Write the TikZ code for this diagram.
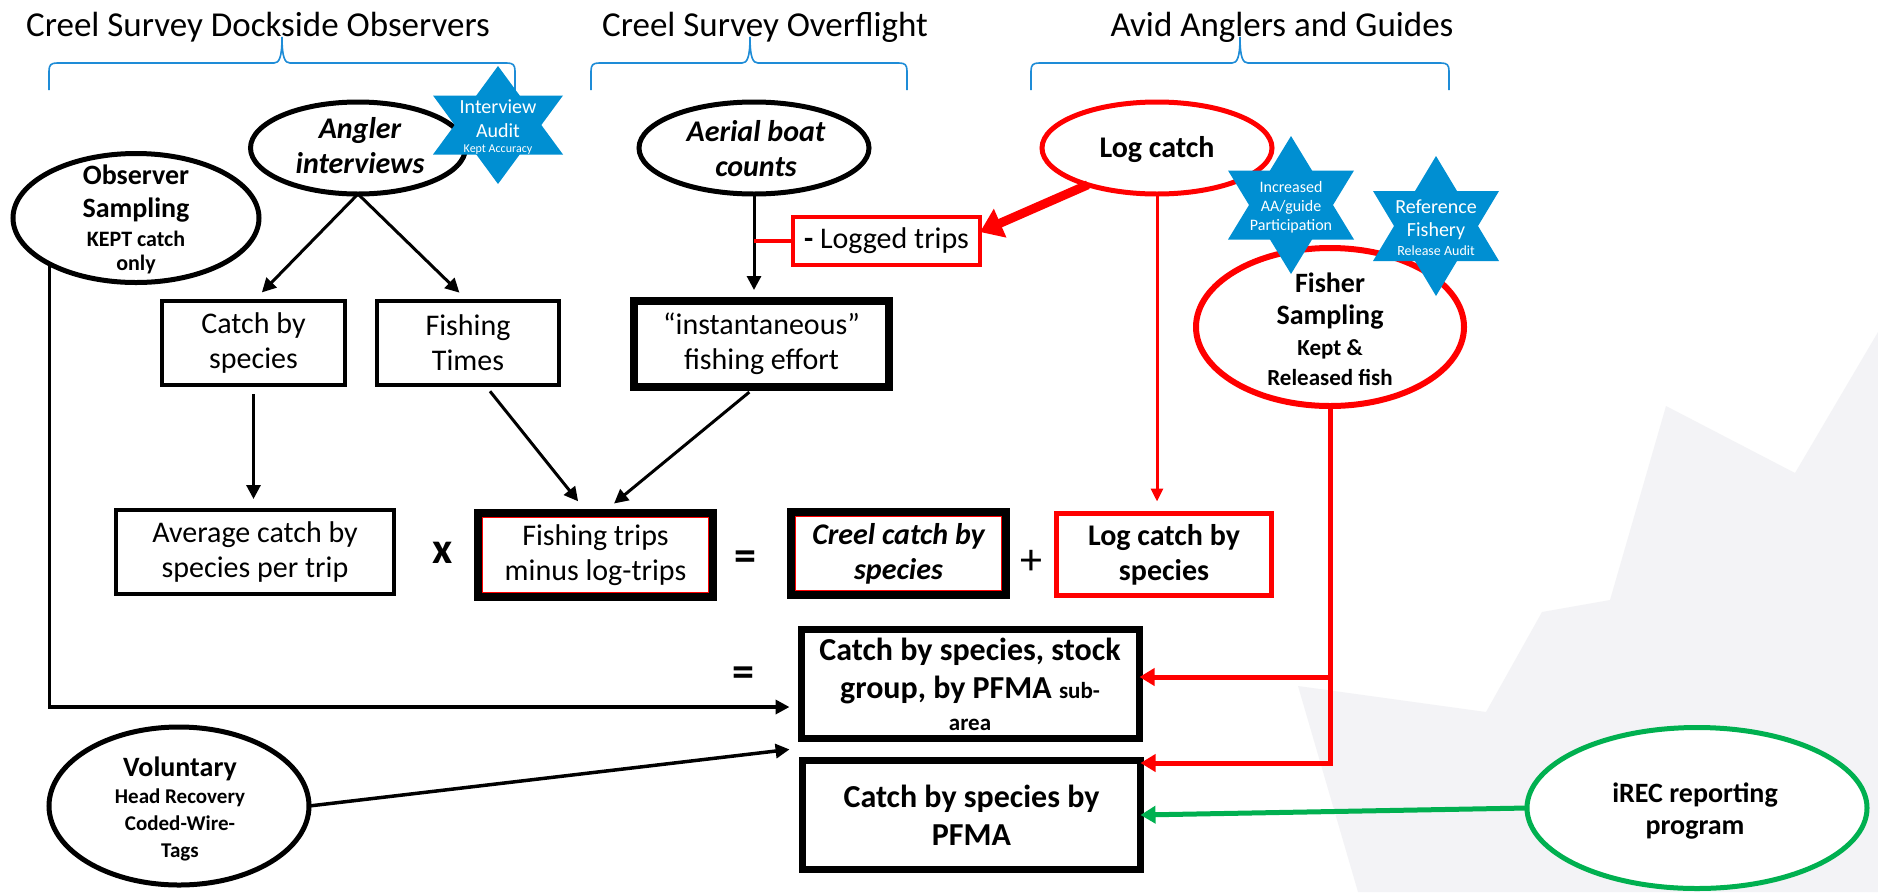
\documentclass[tikz,border=0pt]{standalone}
\usepackage{fontspec}
\setmainfont{Carlito}
\usetikzlibrary{shapes.geometric,arrows.meta,calc}

\definecolor{ccred}{RGB}{255,0,0}
\definecolor{ccgreen}{RGB}{0,176,80}
\definecolor{starblue}{RGB}{0,143,210}
\definecolor{braceblue}{RGB}{30,140,215}
\definecolor{leafgrey}{RGB}{243,243,246}

\newcommand\fsz[2]{\fontsize{#1}{#2}\selectfont}

% six-pointed badge: centre x, centre y, half width, half height
\newcommand\hexstar[4]{%
  \fill[starblue] (#1,#2-#4) -- (#1+#3,#2+#4/2) -- (#1-#3,#2+#4/2) -- cycle;
  \fill[starblue] (#1,#2+#4) -- (#1+#3,#2-#4/2) -- (#1-#3,#2-#4/2) -- cycle;}

% group brace under a heading: left end, tip, right end
\newcommand\groupbrace[3]{%
  \draw[braceblue,line width=1.6pt] (#1,90) -- (#1,71)
    .. controls (#1,65) and (#1+2,63) .. (#1+8,63) -- (#2-8,63)
    .. controls (#2-3,63) and (#2,58) .. (#2,37)
    .. controls (#2,58) and (#2+3,63) .. (#2+8,63) -- (#3-8,63)
    .. controls (#3-2,63) and (#3,65) .. (#3,71) -- (#3,90);}

\begin{document}
\begin{tikzpicture}[x=1pt,y=-1pt,
  lbl/.style={anchor=base,inner sep=0pt,outer sep=0pt},
  head/.style={lbl,font=\fsz{35}{42}},
  oval/.style={ellipse,draw=black,fill=white,line width=5pt,inner sep=0pt,outer sep=0pt},
  box/.style={rectangle,draw=black,fill=white,line width=4pt,align=center,inner sep=0pt,outer sep=0pt,font=\fsz{30}{35}},
  heavybox/.style={box,line width=8pt},
  barrow/.style={draw=black,line width=3pt,-{Triangle[length=14pt,width=14pt]}},
  redthin/.style={draw=ccred,line width=3pt,-{Triangle[length=13pt,width=12pt]}},
  redmid/.style={draw=ccred,line width=5pt,-{Triangle[length=15pt,width=17pt]}},
  redheavy/.style={draw=ccred,line width=9pt,-{Triangle[length=22pt,width=30pt]}},
  greenarr/.style={draw=ccgreen,line width=5pt,-{Triangle[length=15pt,width=17pt]}},
  startxt/.style={lbl,text=white},
  sign/.style={lbl,font=\bfseries\fsz{44}{44}}
]
\useasboundingbox (0,0) rectangle (1878,892);
\fill[white] (0,0) rectangle (1878,892);

% faint leaf watermark
\fill[leafgrey] (1358,892) -- (1298,686) -- (1486,712) -- (1542,612) -- (1610,600)
  -- (1666,406) -- (1795,473) -- (1878,332) -- (1878,892) -- cycle;

% headings and braces
\node[head] (tdock) at (258,36) {Creel Survey Dockside Observers};
\node[head] (tover) at (765,36) {Creel Survey Overflight};
\node[head] (tavid) at (1282,36) {Avid Anglers and Guides};
\groupbrace{49}{282}{515}
\groupbrace{591}{750}{907}
\groupbrace{1031}{1240}{1449}

% data sources
\node[oval,minimum width=246pt,minimum height=129pt] (obs) at (136,218) {};
\node[oval,minimum width=215pt,minimum height=92pt] (ang) at (358,148) {};
\node[oval,minimum width=230pt,minimum height=92pt] (aer) at (754,148) {};
\node[oval,draw=ccred,minimum width=230pt,minimum height=92pt] (logc) at (1157,148) {};
\node[oval,draw=ccred,line width=6pt,minimum width=268pt,minimum height=158pt] (fish) at (1330,327) {};
\node[oval,minimum width=260pt,minimum height=158pt] (vol) at (179,806) {};
\node[oval,draw=ccgreen,minimum width=340pt,minimum height=161pt] (irec) at (1697,808) {};

\node[lbl,font=\bfseries\fsz{28}{33}] (obs1) at (136,184) {Observer};
\node[lbl,font=\bfseries\fsz{28}{33}] (obs2) at (136,217) {Sampling};
\node[lbl,font=\bfseries\fsz{22}{26}] (obs3) at (136,246) {KEPT catch};
\node[lbl,font=\bfseries\fsz{22}{26}] (obs4) at (136,270) {only};

\node[lbl,font=\bfseries\itshape\fsz{30}{35}] (ang1) at (360,138) {Angler};
\node[lbl,font=\bfseries\itshape\fsz{30}{35}] (ang2) at (360,173) {interviews};

\node[lbl,font=\bfseries\itshape\fsz{30}{35}] (aer1) at (756,141) {Aerial boat};
\node[lbl,font=\bfseries\itshape\fsz{30}{35}] (aer2) at (756,176) {counts};

\node[lbl,font=\bfseries\fsz{30}{35}] (logc1) at (1157,157) {Log catch};

\node[lbl,font=\bfseries\fsz{28}{33}] (fish1) at (1330,292) {Fisher};
\node[lbl,font=\bfseries\fsz{28}{33}] (fish2) at (1330,324) {Sampling};
\node[lbl,font=\bfseries\fsz{23}{28}] (fish3) at (1330,355) {Kept \&};
\node[lbl,font=\bfseries\fsz{23}{28}] (fish4) at (1330,385) {Released fish};

\node[lbl,font=\bfseries\fsz{28}{33}] (vol1) at (180,776) {Voluntary};
\node[lbl,font=\bfseries\fsz{21}{26}] (vol2) at (180,803) {Head Recovery};
\node[lbl,font=\bfseries\fsz{21}{26}] (vol3) at (180,830) {Coded-Wire-};
\node[lbl,font=\bfseries\fsz{21}{26}] (vol4) at (180,857) {Tags};

\node[lbl,font=\bfseries\fsz{28}{33}] (irec1) at (1695,802) {iREC reporting};
\node[lbl,font=\bfseries\fsz{28}{33}] (irec2) at (1695,834) {program};

% intermediate quantities
\node[box,minimum width=183pt,minimum height=84pt] (cbs) at (253.5,343) {Catch by\\species};
\node[box,minimum width=182pt,minimum height=84pt] (ft) at (468,343) {Fishing\\Times};
\node[heavybox,minimum width=255pt,minimum height=86pt] (ife) at (761.5,344) {“instantaneous”\\fishing effort};
\node[box,draw=ccred,line width=4.5pt,minimum width=187pt,minimum height=48pt] (lt) at (886.5,241) {{\bfseries -} Logged trips};

\node[box,minimum width=278pt,minimum height=84pt] (avg) at (255,552) {Average catch by\\species per trip};
\node[heavybox,minimum width=235pt,minimum height=84pt] (ftr) at (595.5,555) {Fishing trips\\minus log-trips};
\node[heavybox,minimum width=215pt,minimum height=83pt,font=\bfseries\itshape\fsz{30}{35}] (ccs) at (898.5,553.5) {Creel catch by\\species};
\node[box,draw=ccred,line width=5pt,minimum width=215pt,minimum height=82pt,font=\bfseries\fsz{30}{35}] (lcs) at (1164,554.5) {Log catch by\\species};

\draw[ccred,line width=1.2pt] ([shift={(4.6pt,-4.6pt)}]ftr.north west) rectangle ([shift={(-4.6pt,4.6pt)}]ftr.south east);
\draw[ccred,line width=1.2pt] ([shift={(4.6pt,-4.6pt)}]ccs.north west) rectangle ([shift={(-4.6pt,4.6pt)}]ccs.south east);

\node[sign] (times) at (443,563) {x};
\node[sign] (eq1) at (745,570) {=};
\node[lbl,font=\fsz{44}{44}] (plus) at (1031,574) {+};
\node[sign] (eq2) at (743,686) {=};

% final estimates
\node[box,line width=7pt,minimum width=338pt,minimum height=109pt] (cbss) at (970.5,684) {};
\node[lbl,font=\bfseries\fsz{32}{38}] (cbss1) at (970,660) {Catch by species, stock};
\node[lbl,font=\bfseries\fsz{32}{38}] (cbss2) at (970,698) {group, by PFMA {\fsz{23}{28}sub-}};
\node[lbl,font=\bfseries\fsz{23}{28}] (cbss3) at (970,730) {area};
\node[box,line width=7pt,minimum width=338pt,minimum height=109pt,font=\bfseries\fsz{32}{38}] (cbsp) at (971.5,815) {Catch by species by\\PFMA};

% connectors
\draw[barrow,shorten >=12pt] (ang.south) -- (cbs.north);
\draw[barrow,shorten >=12pt] (ang.south) -- (ft.north);
\draw[barrow,shorten >=11pt] (aer.south) -- (aer.south |- ife.north);
\draw[barrow,shorten <=9pt,shorten >=11pt] (cbs.south) -- (cbs.south |- avg.north);
\draw[barrow,shorten <=8pt,shorten >=15pt] ([xshift=17pt]ft.south) -- ([xshift=-8pt]ftr.north);
\draw[barrow,shorten <=8pt,shorten >=15pt] ([xshift=-6pt]ife.south) -- ([xshift=7pt]ftr.north);
\draw[barrow,line width=3.5pt,shorten >=12pt] (obs.208) |- ([yshift=-23pt]cbss.west);
\draw[barrow,line width=3.5pt,shorten >=12pt] (vol.east) -- ([yshift=-64pt]cbss.west);

\draw[redheavy] (logc.208) -- ([yshift=9pt]lt.east);
\draw[ccred,line width=4pt] (lt.west) -- (lt.west -| aer.south);
\draw[redthin,shorten >=12pt] (logc.south) -- (logc.south |- lcs.north);
\draw[redmid] (fish.south) |- ([yshift=7pt]cbss.east);
\draw[redmid] (fish.south) |- ([yshift=52pt]cbsp.east);
\draw[greenarr] (irec.west) -- (cbsp.east);

% review badges
\hexstar{498}{125}{65}{59}
\node[startxt,font=\fsz{20}{24}] (s1a) at (498,113) {Interview};
\node[startxt,font=\fsz{20}{24}] (s1b) at (498,137) {Audit};
\node[startxt,font=\fsz{12}{14}] (s1c) at (498,152) {Kept Accuracy};

\hexstar{1291}{205}{63}{69}
\node[startxt,font=\fsz{16}{19}] (s2a) at (1291,192) {Increased};
\node[startxt,font=\fsz{16}{19}] (s2b) at (1291,211) {AA/guide};
\node[startxt,font=\fsz{16}{19}] (s2c) at (1291,230) {Participation};

\hexstar{1436}{226}{63}{70}
\node[startxt,font=\fsz{20}{24}] (s3a) at (1436,213) {Reference};
\node[startxt,font=\fsz{20}{24}] (s3b) at (1436,236) {Fishery};
\node[startxt,font=\fsz{14}{17}] (s3c) at (1436,255) {Release Audit};
\end{tikzpicture}
\end{document}
